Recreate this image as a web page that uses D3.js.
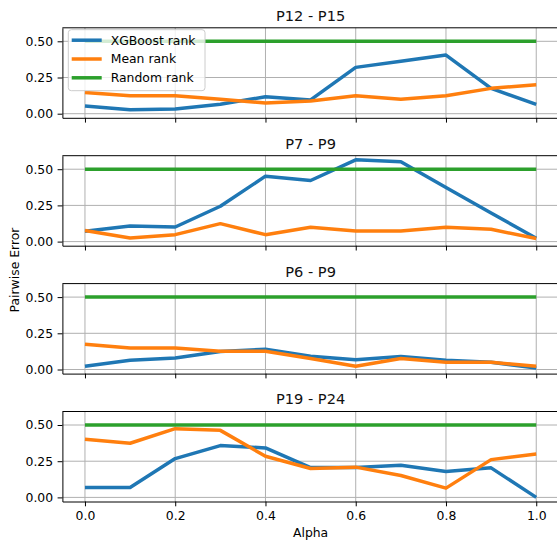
<!DOCTYPE html>
<html>
<head>
<meta charset="utf-8">
<script src="https://cdn.jsdelivr.net/npm/d3@7"></script>
<style>
  body { margin: 0; background: #fff; }
  svg { display: block; font-family: "DejaVu Sans", sans-serif; }
</style>
</head>
<body>
<div id="chart"></div>
<script>
// x values and tick labels
const alpha = [0.0, 0.1, 0.2, 0.3, 0.4, 0.5, 0.6, 0.7, 0.8, 0.9, 1.0];
const xTicks = [0.0, 0.2, 0.4, 0.6, 0.8, 1.0];
const yTicks = [0.0, 0.25, 0.5];

const panelTitles = ["P12 - P15", "P7 - P9", "P6 - P9", "P19 - P24"];
const seriesNames = ["XGBoost rank", "Mean rank", "Random rank"];
const seriesColors = ["#1f77b4", "#ff7f0e", "#2ca02c"];

const xgbP12 = [0.053, 0.028, 0.032, 0.065, 0.117, 0.095, 0.32, 0.362, 0.405, 0.175, 0.065];
const meanP12 = [0.147, 0.124, 0.124, 0.10, 0.074, 0.088, 0.124, 0.10, 0.124, 0.175, 0.20];
const xgbP7 = [0.071, 0.108, 0.101, 0.244, 0.452, 0.422, 0.565, 0.551, 0.373, 0.198, 0.023];
const meanP7 = [0.076, 0.025, 0.048, 0.124, 0.048, 0.099, 0.074, 0.074, 0.099, 0.085, 0.021];
const xgbP6 = [0.023, 0.064, 0.08, 0.124, 0.14, 0.092, 0.067, 0.089, 0.064, 0.05, 0.011];
const meanP6 = [0.174, 0.149, 0.149, 0.126, 0.126, 0.076, 0.023, 0.076, 0.05, 0.05, 0.023];
const xgbP19 = [0.069, 0.069, 0.268, 0.358, 0.342, 0.206, 0.206, 0.222, 0.179, 0.204, 0.0];
const meanP19 = [0.401, 0.374, 0.475, 0.463, 0.284, 0.20, 0.209, 0.151, 0.064, 0.261, 0.30];
const randomRank = [0.5, 0.5, 0.5, 0.5, 0.5, 0.5, 0.5, 0.5, 0.5, 0.5, 0.5];

const panels = [
    [xgbP12, meanP12, randomRank],
    [xgbP7, meanP7, randomRank],
    [xgbP6, meanP6, randomRank],
    [xgbP19, meanP19, randomRank]
];

const width = 557, height = 543;
const left = 62.4, right = 558.8;
const top0 = 27.8, panelH = 90, step = 127.9;
const fontSize = 12.4;

const svg = d3.select("#chart").append("svg")
    .attr("width", width)
    .attr("height", height);

const x = d3.scaleLinear().domain([-0.05, 1.05]).range([left, right]);
const y = d3.scaleLinear().domain([-0.0283, 0.5933]).range([panelH, 0]);

const line = d3.line()
    .x((d, i) => x(alpha[i]))
    .y(d => y(d));

panels.forEach((series, k) => {
    const top = top0 + k * step;
    const g = svg.append("g").attr("transform", `translate(0,${top})`);

    g.append("clipPath").attr("id", "clip" + k)
        .append("rect")
        .attr("x", left).attr("y", 0)
        .attr("width", right - left).attr("height", panelH);

    // grid
    g.selectAll(".gx")
        .data(xTicks)
        .enter().append("line")
        .attr("x1", d => x(d)).attr("x2", d => x(d))
        .attr("y1", 0).attr("y2", panelH)
        .attr("stroke", "#b0b0b0").attr("stroke-width", 1);
    g.selectAll(".gy")
        .data(yTicks)
        .enter().append("line")
        .attr("x1", left).attr("x2", right)
        .attr("y1", d => y(d)).attr("y2", d => y(d))
        .attr("stroke", "#b0b0b0").attr("stroke-width", 1);

    // lines
    g.append("g").attr("clip-path", `url(#clip${k})`)
        .selectAll("path")
        .data(series)
        .enter().append("path")
        .attr("d", d => line(d))
        .attr("fill", "none")
        .attr("stroke", (d, i) => seriesColors[i])
        .attr("stroke-width", 3.5)
        .attr("stroke-linejoin", "round");

    // axes
    const yAxis = g.append("g")
        .attr("transform", `translate(${left},0)`)
        .call(d3.axisLeft(y).tickValues(yTicks).tickFormat(d3.format(".2f"))
            .tickSize(4.8).tickPadding(4.5).tickSizeOuter(0));
    const xAxis = g.append("g")
        .attr("transform", `translate(0,${panelH})`)
        .call(d3.axisBottom(x).tickValues(xTicks)
            .tickFormat(k === panels.length - 1 ? d3.format(".1f") : () => "")
            .tickSize(4.8).tickPadding(4.5).tickSizeOuter(0));
    [xAxis, yAxis].forEach(a => {
        a.select(".domain").attr("stroke", "#000").attr("stroke-width", 1);
        a.selectAll(".tick line").attr("stroke", "#000").attr("stroke-width", 1);
        a.selectAll(".tick text")
            .attr("fill", "#000")
            .style("font-size", fontSize + "px")
            .style("font-family", "DejaVu Sans");
    });

    // top spine
    g.append("line")
        .attr("x1", left).attr("x2", right)
        .attr("y1", 0).attr("y2", 0)
        .attr("stroke", "#000").attr("stroke-width", 1);

    g.append("text")
        .attr("x", (left + right) / 2)
        .attr("y", -7.1)
        .attr("text-anchor", "middle")
        .style("font-size", "14.6px")
        .style("font-weight", "normal")
        .attr("fill", "#111")
        .text(panelTitles[k]);

    // legend only on the first panel
    if (k === 0) {
        const lg = g.append("g");
        lg.append("rect")
            .attr("x", 68.3).attr("y", 29.7 - top)
            .attr("width", 205 - 68.3).attr("height", 90.7 - 29.7)
            .attr("rx", 3)
            .attr("fill", "#fff").attr("fill-opacity", 0.8)
            .attr("stroke", "#cccccc").attr("stroke-width", 1);
        seriesNames.forEach((name, i) => {
            const cy = 40.2 + i * 18.8 - top;
            lg.append("line")
                .attr("x1", 71.7).attr("x2", 101.7)
                .attr("y1", cy).attr("y2", cy)
                .attr("stroke", seriesColors[i]).attr("stroke-width", 3.5);
            lg.append("text")
                .attr("x", 110.7).attr("y", cy)
                .attr("dy", "0.36em")
                .style("font-size", fontSize + "px")
                .text(name);
        });
    }
});

svg.append("text")
    .attr("x", (left + right) / 2)
    .attr("y", 536.7)
    .attr("text-anchor", "middle")
    .style("font-size", fontSize + "px")
    .text("Alpha");

svg.append("text")
    .attr("transform", "translate(18.8,270) rotate(-90)")
    .attr("text-anchor", "middle")
    .style("font-size", fontSize + "px")
    .text("Pairwise Error");
</script>
</body>
</html>
